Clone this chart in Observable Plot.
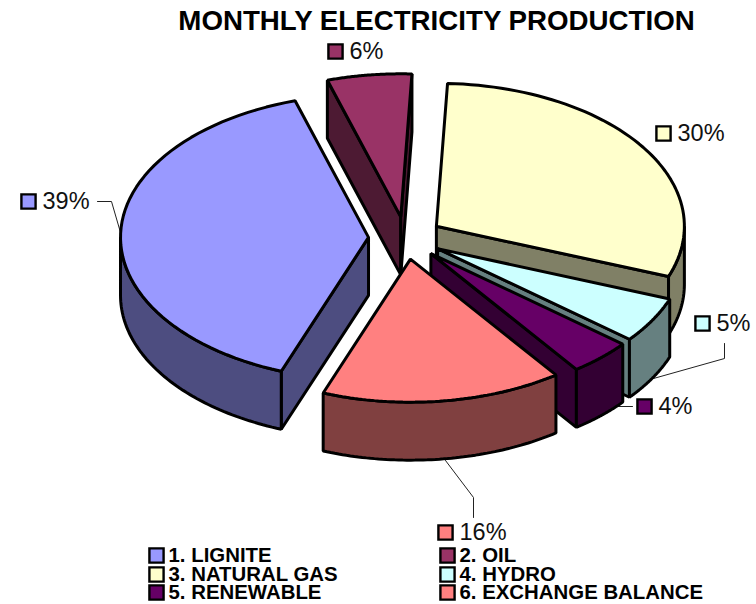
<!DOCTYPE html>
<html>
<head>
<meta charset="utf-8">
<script src="https://cdn.jsdelivr.net/npm/d3@7"></script>
<script src="https://cdn.jsdelivr.net/npm/@observablehq/plot@0.6"></script>
<style>html,body{margin:0;padding:0;background:#fff}svg{display:block}</style>
</head>
<body>
<div id="chart"></div>
<script>
const titleText = "MONTHLY ELECTRICITY PRODUCTION";
const categories = ["1. LIGNITE", "2. OIL", "3. NATURAL GAS", "4. HYDRO", "5. RENEWABLE", "6. EXCHANGE BALANCE"];
const shares = [39.49, 5.5, 30.0, 5.2, 4.1, 15.7];
const percentLabels = ["39%", "6%", "30%", "5%", "4%", "16%"];
const topColors = ["#9999FF", "#993366", "#FFFFCC", "#CCFFFF", "#660066", "#FF8080"];
const sideColors = ["#4D4D80", "#4D1A33", "#808066", "#668080", "#330033", "#804040"];

// pie layout
const pie = {cx: 405, cy: 237.5, rx: 248, ry: 143, depth: 58, explode: 37, start: 200.6};
const drawOrder = [1, 0, 2, 3, 4, 5];
const labelAnchors = [[28, 201], [335, 51], [663, 133], [702, 323], [644, 406], [445, 532]];
const leaders = [
  [[97, 201], [111, 201], [120, 232]],
  [[724, 343], [724, 358], [653, 378]],
  [[618, 406], [632, 406]],
  [[445, 460], [473, 497], [473, 517]]
];
const legendCells = [[156, 555], [447, 555], [156, 574], [447, 574], [156, 592], [447, 592]];

const rad = d => d * Math.PI / 180;
const sum = d3.sum(shares);
let running = pie.start;
const slices = shares.map((v, i) => {
  const a0 = running, a1 = running + v / sum * 360;
  running = a1;
  const mid = rad((a0 + a1) / 2);
  return {i, a0, a1,
    ox: pie.cx + pie.explode * Math.sin(mid),
    oy: pie.cy - pie.explode * Math.cos(mid) * pie.ry / pie.rx};
});
const rim = (s, a, dz = 0) => ({
  x: s.ox + pie.rx * Math.sin(rad(a)),
  y: s.oy - pie.ry * Math.cos(rad(a)) + dz
});
const arc = (s, a0, a1, dz = 0) => d3.range(0, 61).map(k => rim(s, a0 + (a1 - a0) * k / 60, dz));
const polygons = [];
for (const idx of drawOrder) {
  const s = slices[idx];
  const apex = {x: s.ox, y: s.oy}, apexLow = {x: s.ox, y: s.oy + pie.depth};
  const sideFill = sideColors[idx];
  if (Math.sin(rad(s.a0)) < 0) polygons.push({fill: sideFill, pts: [apex, rim(s, s.a0), rim(s, s.a0, pie.depth), apexLow]});
  if (Math.sin(rad(s.a1)) > 0) polygons.push({fill: sideFill, pts: [apex, rim(s, s.a1), rim(s, s.a1, pie.depth), apexLow]});
  // outer wall: front-facing part of the rim (90..270 degrees, also one turn later)
  for (const shift of [0, 360]) {
    const w0 = Math.max(s.a0, 90 + shift), w1 = Math.min(s.a1, 270 + shift);
    if (w1 > w0) polygons.push({fill: sideFill, pts: [...arc(s, w0, w1), ...arc(s, w1, w0, pie.depth)]});
  }
  polygons.push({fill: topColors[idx], pts: [apex, ...arc(s, s.a0, s.a1)]});
}

const font = "Liberation Sans, Arial, sans-serif";
const swatch = (cells, sw) => Plot.dot(cells.map((c, i) => ({x: c[0], y: c[1], f: topColors[i]})), {
  x: "x", y: "y", fill: d => d.f, symbol: "square", r: 8, stroke: "black", strokeWidth: sw
});

const plot = Plot.plot({
  width: 756, height: 604,
  margin: 0,
  x: {domain: [0, 756], range: [0, 756], axis: null},
  y: {domain: [0, 604], range: [0, 604], axis: null},
  color: {type: "identity"},
  style: {background: "#fff", fontFamily: font},
  marks: [
    ...leaders.map(l => Plot.line(l, {x: d => d[0], y: d => d[1], stroke: "#222", strokeWidth: 1})),
    ...polygons.map(p => Plot.line(p.pts, {
      x: "x", y: "y", fill: p.fill, stroke: "black", strokeWidth: 3,
      curve: "linear-closed", strokeLinejoin: "miter"
    })),
    Plot.text([titleText], {x: () => 436, y: () => 21, text: d => d, fontSize: 27.7, fontWeight: "bold", fill: "black", fontFamily: font}),
    swatch(labelAnchors, 2.4),
    Plot.text(percentLabels, {
      x: (d, i) => labelAnchors[i][0] + 14, y: (d, i) => labelAnchors[i][1],
      text: d => d, textAnchor: "start", fontSize: 23.5, fill: "#111", fontFamily: font
    }),
    swatch(legendCells, 2.4),
    Plot.text(categories, {
      x: (d, i) => legendCells[i][0] + 12, y: (d, i) => legendCells[i][1],
      text: d => d, textAnchor: "start", fontSize: 20.4, fontWeight: "bold", fill: "black", fontFamily: font
    })
  ]
});
document.getElementById("chart").appendChild(plot);
</script>
</body>
</html>
